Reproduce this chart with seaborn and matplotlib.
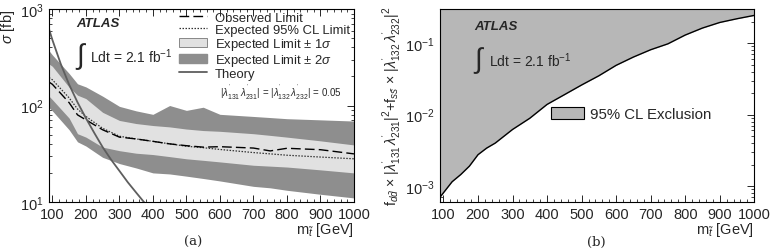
import numpy as np
import pandas as pd
import matplotlib
matplotlib.use("Agg")
import matplotlib.pyplot as plt
import seaborn as sns
from matplotlib.lines import Line2D
from matplotlib.patches import Patch
from matplotlib.ticker import AutoMinorLocator, NullFormatter, FixedLocator

# (a) cross-section limits [fb] vs stop mass [GeV]
mass = [90, 100, 150, 175, 200, 250, 300, 350, 400, 450, 500, 550, 600, 700, 750, 800, 900, 1000]
observed = [175, 166, 107, 80, 71, 56, 47, 45, 42.5, 40, 38.3, 37, 37.4, 36.2, 33.8, 36, 34.8, 31.5]
expected = [195, 185, 120, 92, 77, 58, 48, 45, 42.5, 40, 37.8, 36.5, 35, 32.5, 31.5, 30.5, 29.2, 28]
exp_minus1 = [125, 115, 74, 51, 47, 37, 34, 32, 31, 29.5, 28, 27, 26, 24, 23.5, 23, 21.5, 20]
exp_plus1 = [270, 255, 155, 128, 118, 85, 70, 65, 62, 60, 57, 55, 54, 51, 49, 47, 43, 39]
exp_minus2 = [95, 88, 56, 42, 38, 29, 25, 22.5, 20, 19.5, 18.5, 17.5, 16.5, 14.5, 14, 13.2, 12, 11]
exp_plus2 = [370, 335, 215, 168, 156, 125, 98, 88, 81, 100, 89, 96, 81, 77, 75, 73, 71, 69]

theory_mass = [90, 100, 125, 150, 175, 200, 225, 250, 275, 300, 325, 350, 375, 400]
theory_xsec = [620, 480, 270, 165, 108, 74, 52, 37, 27.5, 21, 16, 12.5, 9.8, 7.8]

# (b) coupling limit vs stop mass
excl_mass = [90, 125, 150, 175, 200, 225, 250, 300, 350, 400, 450, 500, 550, 600, 650, 700, 750, 800, 850, 900, 950, 1000]
excl_limit = [7.0e-4, 1.15e-3, 1.45e-3, 1.9e-3, 2.75e-3, 3.4e-3, 4.0e-3, 6.2e-3, 8.9e-3, 1.39e-2, 1.9e-2,
              2.6e-2, 3.5e-2, 4.9e-2, 6.4e-2, 8.1e-2, 9.8e-2, 0.13, 0.163, 0.195, 0.22, 0.245]

DARK = "#8e8e8e"
LIGHT = "#e1e1e1"
THEORY = "#5e5e5e"
EXCL = "#b7b7b7"


def style_axis(ax):
    ax.tick_params(which="both", direction="in", top=True, right=True, labelsize=10.5, pad=4)
    ax.tick_params(which="major", length=5, width=0.7)
    ax.tick_params(which="minor", length=2.5, width=0.6)
    ax.xaxis.set_major_locator(FixedLocator(range(100, 1001, 100)))
    ax.xaxis.set_minor_locator(AutoMinorLocator(5))
    ax.yaxis.set_minor_formatter(NullFormatter())
    for s in ax.spines.values():
        s.set_linewidth(0.8)
        s.set_color("black")
    ax.grid(False)


def lumi_text(ax, x, y):
    ax.text(x, y + 0.13, "ATLAS", transform=ax.transAxes, fontsize=9.5,
            fontweight="bold", fontstyle="italic", va="center")
    ax.text(x - 0.005, y - 0.04, r"$\int$", transform=ax.transAxes, fontsize=20, va="center")
    ax.text(x + 0.045, y - 0.04, r"Ldt = 2.1 fb$^{\mathregular{-1}}$", transform=ax.transAxes,
            fontsize=10, va="center")


def limit_panel(ax):
    df = pd.DataFrame({"mass": mass, "observed": observed, "expected": expected})
    ax.fill_between(mass, exp_minus2, exp_plus2, color=DARK, lw=0)
    ax.fill_between(mass, exp_minus1, exp_plus1, color=LIGHT, lw=0)
    sns.lineplot(data=df, x="mass", y="expected", ax=ax, color="#333333",
                 linestyle=(0, (1.2, 1.2)), lw=0.9)
    sns.lineplot(data=df, x="mass", y="observed", ax=ax, color="black",
                 linestyle=(0, (7, 3)), lw=1.0)
    sns.lineplot(x=theory_mass, y=theory_xsec, ax=ax, color=THEORY, lw=1.3)
    ax.set_yscale("log")
    ax.set_xlim(90, 1000)
    ax.set_ylim(10, 1000)
    style_axis(ax)
    ax.set_xlabel("")
    ax.set_ylabel("")
    handles = [
        Line2D([], [], color="black", linestyle=(0, (7, 3)), lw=1.0),
        Line2D([], [], color="#333333", linestyle=(0, (1.2, 1.2)), lw=0.9),
        Patch(facecolor=LIGHT, edgecolor="#777777", lw=0.6),
        Patch(facecolor=DARK, edgecolor=DARK),
        Line2D([], [], color=THEORY, lw=1.3),
    ]
    labels = ["Observed Limit", "Expected 95% CL Limit", r"Expected Limit $\pm$ 1$\sigma$",
              r"Expected Limit $\pm$ 2$\sigma$", "Theory"]
    ax.legend(handles, labels, loc="upper left", bbox_to_anchor=(0.395, 1.035), frameon=False,
              fontsize=9.4, handlelength=2.2, handleheight=0.7, labelspacing=0.0,
              handletextpad=0.55, borderpad=0.2)
    ax.text(0.958, 0.572,
            r"$|\lambda^{'}_{131}\,\lambda^{'}_{231}|$ = $|\lambda^{'}_{132}\,\lambda^{'}_{232}|$ = 0.05",
            transform=ax.transAxes, fontsize=7, ha="right", va="center")
    lumi_text(ax, 0.09, 0.80)
    ax.set_ylabel(r"$\sigma$ [fb]", fontsize=10.5, loc="top", labelpad=2)


def exclusion_panel(ax):
    df = pd.DataFrame({"mass": excl_mass, "limit": excl_limit})
    ax.fill_between(excl_mass, excl_limit, 1.0, color=EXCL, lw=0)
    sns.lineplot(data=df, x="mass", y="limit", ax=ax, color="black", lw=1.0)
    ax.set_yscale("log")
    ax.set_xlim(90, 1000)
    ax.set_ylim(6e-4, 0.3)
    style_axis(ax)
    ax.set_xlabel("")
    ax.legend([Patch(facecolor=EXCL, edgecolor="black", lw=0.8)], ["95% CL Exclusion"],
              loc="center left", bbox_to_anchor=(0.31, 0.455), frameon=False, fontsize=10.8,
              handlelength=2.2, handleheight=0.9, handletextpad=0.4)
    lumi_text(ax, 0.11, 0.78)
    ax.set_ylabel(r"f$_{d\bar{d}}$ $\times$ $|\lambda^{'}_{131}\,\lambda^{'}_{231}|^2$+f$_{s\bar{s}}$"
                  r" $\times$ $|\lambda^{'}_{132}\,\lambda^{'}_{232}|^2$", fontsize=10.3, labelpad=1)


def main():
    sns.set_theme(style="ticks")
    plt.rcParams["font.family"] = ["Liberation Sans", "DejaVu Sans"]
    plt.rcParams["mathtext.fontset"] = "custom"
    plt.rcParams["mathtext.rm"] = "Liberation Sans"
    plt.rcParams["mathtext.it"] = "Liberation Sans:italic"
    plt.rcParams["mathtext.bf"] = "Liberation Sans:bold"

    fig = plt.figure(figsize=(7.72, 2.53), dpi=100)
    ax1 = fig.add_axes([0.0635, 0.198, 0.395, 0.762])
    ax2 = fig.add_axes([0.570, 0.198, 0.407, 0.762])
    limit_panel(ax1)
    exclusion_panel(ax2)

    xl = r"m$_{\tilde{t}}$ [GeV]"
    fig.text(0.458, 0.09, xl, ha="right", va="center", fontsize=10.5)
    fig.text(0.977, 0.09, xl, ha="right", va="center", fontsize=10.5)
    fig.text(0.25, 0.04, "(a)", ha="center", va="center", fontsize=9.5, family="DejaVu Serif")
    fig.text(0.772, 0.04, "(b)", ha="center", va="center", fontsize=9.5, family="DejaVu Serif")

    fig.savefig("out.png", dpi=100)
    plt.close(fig)


if __name__ == "__main__":
    main()
